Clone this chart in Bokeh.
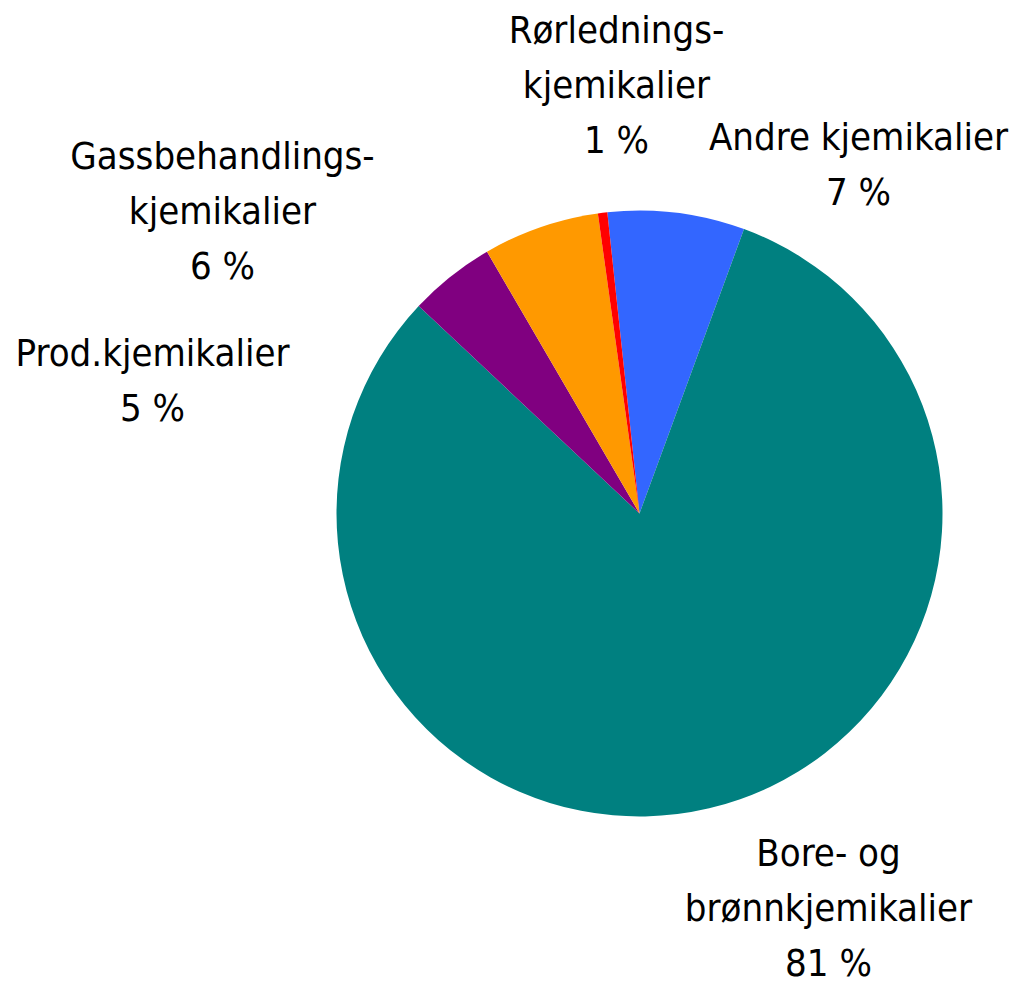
import math
from bokeh.plotting import figure
from bokeh.models import Range1d, ColumnDataSource
from bokeh.core.properties import value
from bokeh.embed import file_html
from bokeh.resources import INLINE

# ---- data (clockwise from the first slice) ----
categories = ["Andre kjemikalier", "Bore- og brønnkjemikalier", "Prod.kjemikalier",
              "Gassbehandlingskjemikalier", "Rørledningskjemikalier"]
shares = [7.3, 81.4, 4.6, 6.2, 0.5]
colors = ["#3366FF", "#008080", "#800080", "#FF9900", "#FF0000"]
label_lines = [
    ["Andre kjemikalier", "7 %"],
    ["Bore- og", "brønnkjemikalier", "81 %"],
    ["Prod.kjemikalier", "5 %"],
    ["Gassbehandlings-", "kjemikalier", "6 %"],
    ["Rørlednings-", "kjemikalier", "1 %"],
]

# ---- layout ----
W, H = 1012, 985
def Y(py):
    return H - py

cx, cy, r = 639, Y(513), 303
start_deg = 96.1  # math angle, slices go clockwise

total = sum(shares)
starts, ends = [], []
a = math.radians(start_deg)
for s in shares:
    sweep = 2 * math.pi * s / total
    starts.append(a)
    a -= sweep
    ends.append(a)

src = ColumnDataSource(dict(start=starts, end=ends, color=colors, cat=categories))

p = figure(width=W, height=H, output_backend="svg", toolbar_location=None,
           x_range=Range1d(0, W), y_range=Range1d(0, H),
           min_border=0, outline_line_color=None)
p.axis.visible = False
p.grid.visible = False
p.background_fill_color = "white"

p.wedge(x=cx, y=cy, radius=r, start_angle="start", end_angle="end",
        direction="clock", fill_color="color", line_color=None, source=src)

# label anchor positions (center x, first baseline y in page pixels)
anchors = [(858, 149), (828, 865), (152, 365), (222, 168), (616, 42)]
line_step = 55
baseline_fix = 13  # renderer places alphabetic baseline slightly lower

xs, ys, ts = [], [], []
for (ax, ay), lines in zip(anchors, label_lines):
    for i, t in enumerate(lines):
        xs.append(ax)
        ys.append(Y(ay + i * line_step - baseline_fix))
        ts.append(t)

p.text(x=xs, y=ys, text=ts, text_align="center", text_baseline="alphabetic",
       text_font=value("DejaVu Sans Condensed"),
       text_font_size="38px", text_color="black")

open("out.html", "w").write(file_html(p, INLINE))
